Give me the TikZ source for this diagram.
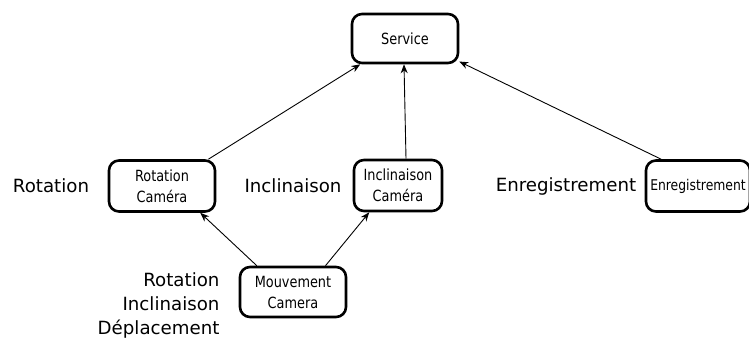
\documentclass[tikz,border=0pt]{standalone}
\usepackage{fontspec}
\setmainfont{DejaVu Sans}
\newfontfamily\boxfont[FakeStretch=0.93]{DejaVu Sans Condensed}
\usetikzlibrary{arrows.meta}
\begin{document}
\begin{tikzpicture}[x=1pt,y=-1pt,
  box/.style={draw, line width=2.6pt, rounded corners=10pt, align=center,
    font=\boxfont\fontsize{15.4}{21}\selectfont, inner sep=0pt},
  lbl/.style={font=\fontsize{18.2}{24}\selectfont},
  link/.style={line width=0.9pt, -{Stealth[length=9pt,width=7pt]}}]
\useasboundingbox (0,0) rectangle (749,340);
% boxes
\node[box, minimum width=106pt, minimum height=49pt] (svc) at (405,38.5) {Service};
\node[box, minimum width=106pt, minimum height=51pt] (rc) at (162,186) {Rotation\\Caméra};
\node[box, minimum width=88pt, minimum height=51pt] (ic) at (398,185.5) {Inclinaison\\Caméra};
\node[box, minimum width=104pt, minimum height=51pt,
  font=\boxfont\fontsize{14.8}{18}\selectfont] (en) at (698,186) {Enregistrement};
\node[box, minimum width=106pt, minimum height=50pt] (mc) at (293,292) {Mouvement\\Camera};
% labels
\node[lbl] (lrot) at (51,186) {Rotation};
\node[lbl] (linc) at (293,186) {Inclinaison};
\node[lbl] (lenr) at (566,186) {Enregistrement};
\node[lbl, align=right, anchor=east] (lmc) at (223,305) {Rotation\\Inclinaison\\Déplacement};
% connectors
\draw[link] (rc.30) -- (svc.210);
\draw[link] ([xshift=8pt]ic.north) -- ([xshift=-1pt]svc.south);
\draw[link] (en.144) -- (svc.337);
\draw[link] (mc.144) -- (rc.325);
\draw[link] (mc.39) -- (ic.223);
\end{tikzpicture}
\end{document}
